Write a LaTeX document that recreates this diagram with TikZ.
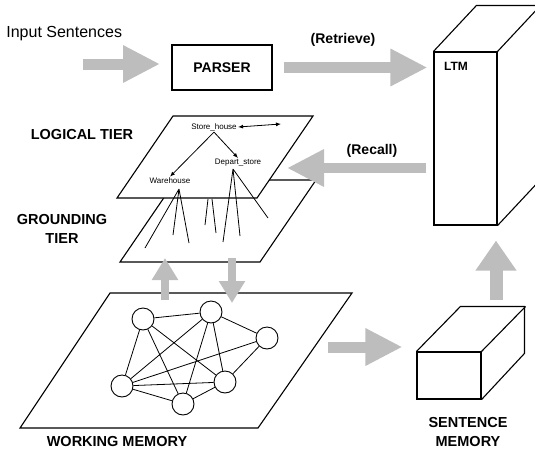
\documentclass[tikz,border=0pt]{standalone}
\usepackage{fontspec}
\setmainfont{Liberation Sans}
\usetikzlibrary{arrows.meta,positioning}

\begin{document}
\begin{tikzpicture}[x=1pt,y=-1pt,thick,
                    box/.style={draw,line width=1.1pt},
                    plane/.style={draw,fill=white,line width=1.1pt},
                    fatarrow/.style={line width=11pt,black!26,-{Triangle[length=37pt,width=35pt]}},
                    thinarrow/.style={line width=8pt,black!26,-{Triangle[length=22pt,width=25pt]}},
                    lbl/.style={font=\bfseries\fontsize{14.5}{19}\selectfont,align=center,inner sep=0pt},
                    term/.style={font=\fontsize{8}{9}\selectfont,inner sep=1pt},
                    unit/.style={circle,draw,fill=white,minimum size=22pt,inner sep=0pt,line width=0.9pt}]

    \useasboundingbox (0,0) rectangle (535,453);
    \clip (0,0) rectangle (535,453);

    % Parser and input
    \node[lbl,font=\fontsize{16}{18}\selectfont,anchor=west] (input) at (6,34) {Input Sentences};
    \node[box,minimum width=100pt,minimum height=45pt] (parser) at (222,67.5) {};
    \node[lbl,font=\bfseries\fontsize{14}{16}\selectfont] (parsertext) at (parser) {PARSER};
    \coordinate (inp) at (83,64);
    \coordinate (inpend) at (160,64);
    \draw[fatarrow] (inp) -- (inpend);

    % LTM box (cut off at the right)
    \node[box,minimum width=63pt,minimum height=173pt] (ltm) at (465.5,138.5) {};
    \draw[box] (ltm.north west) -- ++(43,-46) -- ++(80,0);
    \draw[box] (ltm.north east) -- ++(43,-46);
    \draw[box] (ltm.south east) -- ++(43,-46);
    \node[lbl,font=\bfseries\fontsize{12}{14}\selectfont] (ltmtext) at (456,66) {LTM};

    % Sentence memory box
    \node[box,minimum width=64pt,minimum height=47pt] (sm) at (449,375.5) {};
    \draw[box] (sm.north west) -- ++(44,-45) -- ++(64,0) -- ++(0,47) -- (sm.south east);
    \draw[box] (sm.north east) -- ++(44,-45);
    \node[lbl] (smtext) at (468,432) {SENTENCE\\MEMORY};

    % Tiers
    \draw[plane] (176,180) -- (316,180) -- (260,262) -- (120,262) -- cycle;
    \draw[plane] (173,116) -- (313,116) -- (257,198) -- (117,198) -- cycle;
    \node[lbl] (logical) at (82,135) {LOGICAL TIER};
    \node[lbl] (grounding) at (62,229) {GROUNDING\\TIER};

    \node[term] (store) at (214,127) {Store\_house};
    \node[term] (depart) at (238,163) {Depart\_store};
    \node[term] (ware) at (170,181) {Warehouse};
    \coordinate (storeto) at (281,124);
    \draw[line width=0.8pt,-{Latex[length=5pt,width=4pt]}] (store.south) -- (ware.north);
    \draw[line width=0.8pt,-{Latex[length=5pt,width=4pt]}] (store.south) -- (depart.north);
    \draw[line width=0.8pt,{Latex[length=5pt,width=4pt]}-{Latex[length=5pt,width=4pt]}] (store.east) -- (storeto);

    % Grounding lines
    \coordinate (wg) at (179,189);
    \coordinate (dg) at (233,169);
    \coordinate (g1) at (145,248);
    \coordinate (g2) at (173,235);
    \coordinate (g3) at (189,243);
    \coordinate (g4) at (223,242);
    \coordinate (g5) at (240,236);
    \coordinate (g6) at (268,218);
    \coordinate (h1) at (208,199);
    \coordinate (h2) at (205,225);
    \coordinate (h3) at (212,199);
    \coordinate (h4) at (216,233);
    \draw[line width=0.8pt] (wg) -- (g1) (wg) -- (g2) (wg) -- (g3)
                            (dg) -- (g4) (dg) -- (g5) (dg) -- (g6)
                            (h1) -- (h2) (h3) -- (h4);

    % Working memory
    \draw[plane] (110,293) -- (352,293) -- (258,428) -- (20,428) -- cycle;
    \node[lbl] (wm) at (117,441) {WORKING MEMORY};

    \node[unit] (n1) at (143,319) {};
    \node[unit] (n2) at (211,312) {};
    \node[unit] (n3) at (267,338) {};
    \node[unit] (n4) at (122,386) {};
    \node[unit] (n5) at (183,404) {};
    \node[unit] (n6) at (225,382) {};
    \draw[line width=0.8pt] (n1) -- (n2) (n2) -- (n3) (n1) -- (n4) (n1) -- (n5)
                            (n1) -- (n6) (n2) -- (n4) (n2) -- (n5) (n2) -- (n6)
                            (n3) -- (n4) (n3) -- (n6) (n4) -- (n5) (n4) -- (n6)
                            (n5) -- (n6);

    % Flows
    \draw[fatarrow,shorten <=11pt,shorten >=6pt] (parser.east) -- (parser.east -| ltm.west);
    \node[lbl,font=\bfseries\fontsize{14}{16}\selectfont] (retrieve) at (343,40) {(Retrieve)};

    \coordinate (recalltip) at (287,168);
    \draw[fatarrow,line width=10pt,shorten <=7pt] (recalltip -| ltm.west) -- (recalltip);
    \node[lbl,font=\bfseries\fontsize{14}{16}\selectfont] (recall) at (372,151) {(Recall)};

    \coordinate (upbot) at (165,300);
    \coordinate (uptop) at (165,258);
    \coordinate (dntop) at (232,258);
    \coordinate (dnbot) at (232,303);
    \draw[thinarrow] (upbot) -- (uptop);
    \draw[thinarrow] (dntop) -- (dnbot);

    \coordinate (wmout) at (328,347);
    \draw[fatarrow,shorten >=14pt] (wmout) -- (wmout -| sm.west);
    \coordinate (smout) at (496,300);
    \draw[fatarrow,line width=13pt,-{Triangle[length=30pt,width=39pt]},shorten >=15pt] (smout) -- (smout |- ltm.south);

\end{tikzpicture}
\end{document}
